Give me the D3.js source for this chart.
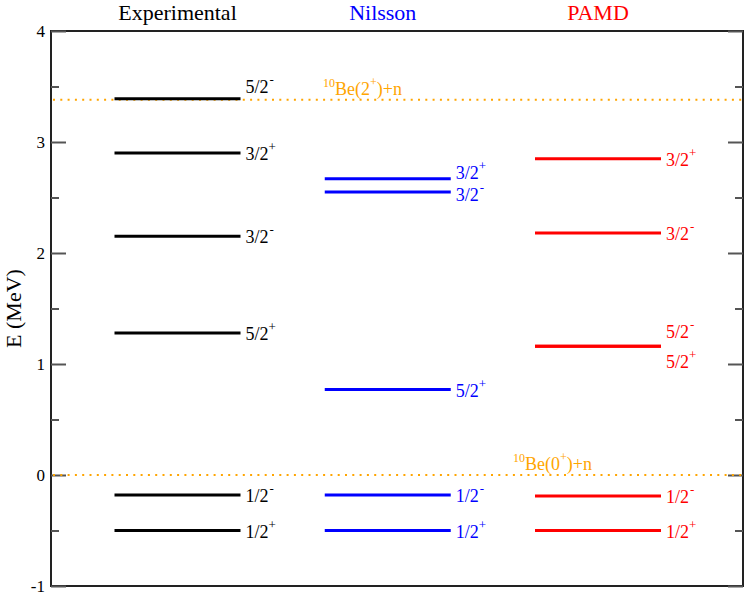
<!DOCTYPE html>
<html>
<head>
<meta charset="utf-8">
<script src="https://cdn.jsdelivr.net/npm/d3@7"></script>
<style>
  html, body { margin: 0; padding: 0; background: #fff; }
  svg { display: block; }
  svg text { font-family: "Liberation Serif", "DejaVu Serif", serif; }
</style>
</head>
<body>
<svg id="chart" width="747" height="595"></svg>
<script>
// ---- data ----
const categories = ["Experimental", "Nilsson", "PAMD"];
const expLevels = [3.39, 2.90, 2.15, 1.28, -0.18, -0.50];
const expLabels = ["5/2-", "3/2+", "3/2-", "5/2+", "1/2-", "1/2+"];
const nilLevels = [2.67, 2.55, 0.77, -0.18, -0.50];
const nilLabels = ["3/2+", "3/2-", "5/2+", "1/2-", "1/2+"];
const pamdLevels = [2.85, 2.18, 1.16, 1.16, -0.19, -0.50];
const pamdLabels = ["3/2+", "3/2-", "5/2-", "5/2+", "1/2-", "1/2+"];
const thresholdValues = [3.38, 0.0];
const thresholdLabels = ["2+", "0+"];
const yTicks = [-1, 0, 1, 2, 3, 4];
const yTickLabels = ["-1", "0", "1", "2", "3", "4"];
const yMinorTicks = [-0.5, 0.5, 1.5, 2.5, 3.5];

// ---- layout / style ----
const FONT = "Liberation Serif, DejaVu Serif, serif";
const colors = ["#000000", "#0000ff", "#ff0000"];
const threshColor = "#ffa500";
const svg = d3.select("#chart").attr("font-family", FONT);
const plot = { left: 51, right: 743, top: 31, bottom: 586 };

const y = d3.scaleLinear().domain([-1, 4]).range([plot.bottom, plot.top]);
const x = d3.scalePoint().domain(categories).range([177.5, 598]);
const halfW = 63;

// label vertical shifts (px) to avoid overlaps, per column / level index
const labelShift = { "0-0": -12, "1-0": -6, "1-1": 3, "2-2": -14, "2-3": 16 };

// frame
svg.append("rect")
  .attr("x", plot.left).attr("y", plot.top)
  .attr("width", plot.right - plot.left).attr("height", plot.bottom - plot.top)
  .attr("fill", "none").attr("stroke", "#222").attr("stroke-width", 2);

// axes
function styleAxis(g) {
  g.attr("font-family", FONT);
  g.select(".domain").remove();
  g.selectAll(".tick line").attr("stroke", "#555").attr("stroke-width", 2);
}
const axL = svg.append("g").attr("transform", `translate(${plot.left},0)`)
  .call(d3.axisLeft(y).tickValues(yTicks).tickSizeInner(-15).tickSizeOuter(0).tickPadding(6)
    .tickFormat((d, i) => yTickLabels[i]));
styleAxis(axL);
axL.selectAll(".tick text").attr("font-size", 17).attr("fill", "#000")
  .attr("font-family", FONT);
const axLm = svg.append("g").attr("transform", `translate(${plot.left},0)`)
  .call(d3.axisLeft(y).tickValues(yMinorTicks).tickSizeInner(-8).tickSizeOuter(0).tickFormat(""));
styleAxis(axLm);
const axR = svg.append("g").attr("transform", `translate(${plot.right},0)`)
  .call(d3.axisRight(y).tickValues(yTicks).tickSizeInner(-15).tickSizeOuter(0).tickFormat(""));
styleAxis(axR);
const axRm = svg.append("g").attr("transform", `translate(${plot.right},0)`)
  .call(d3.axisRight(y).tickValues(yMinorTicks).tickSizeInner(-8).tickSizeOuter(0).tickFormat(""));
styleAxis(axRm);

// y label
svg.append("text")
  .attr("transform", `translate(21,${(plot.top + plot.bottom) / 2}) rotate(-90)`)
  .attr("text-anchor", "middle")
  .attr("font-family", FONT)
  .attr("font-size", 22)
  .text("E (MeV)");

// thresholds
svg.selectAll("line.thresh").data(thresholdValues).enter().append("line")
  .attr("class", "thresh")
  .attr("x1", plot.left + 2).attr("x2", plot.right)
  .attr("y1", d => y(d)).attr("y2", d => y(d))
  .attr("stroke", threshColor).attr("stroke-width", 2)
  .attr("stroke-dasharray", "2,5.3");
const threshX = [323, 513];
thresholdValues.forEach((v, i) => {
  const t = svg.append("text")
    .attr("x", threshX[i]).attr("y", y(v) - 5)
    .attr("fill", threshColor).attr("font-size", 18).attr("font-family", FONT);
  t.append("tspan").attr("font-size", 12).attr("dy", -8).text("10");
  t.append("tspan").attr("dy", 8).text("Be(" + thresholdLabels[i][0]);
  t.append("tspan").attr("font-size", 12).attr("dy", -9).text(thresholdLabels[i][1]);
  t.append("tspan").attr("dy", 9).text(")+n");
});

// titles
svg.selectAll("text.title").data(categories).enter().append("text")
  .attr("class", "title")
  .attr("x", (d, i) => x(d) + (i === 1 ? -5 : 0)).attr("y", 20)
  .attr("text-anchor", "middle")
  .attr("font-family", FONT)
  .attr("font-size", 22)
  .attr("fill", (d, i) => colors[i])
  .text(d => d);

// levels
const columns = [
  { levels: expLevels, labels: expLabels },
  { levels: nilLevels, labels: nilLabels },
  { levels: pamdLevels, labels: pamdLabels }
];
columns.forEach((col, ci) => {
  const cx = x(categories[ci]);
  const g = svg.append("g");
  g.selectAll("line").data(col.levels).enter().append("line")
    .attr("x1", cx - halfW).attr("x2", cx + halfW)
    .attr("y1", d => y(d)).attr("y2", d => y(d))
    .attr("stroke", colors[ci]).attr("stroke-width", 3);
  col.levels.forEach((v, li) => {
    const lab = col.labels[li];
    const shift = labelShift[ci + "-" + li] || 1;
    const t = g.append("text")
      .attr("x", cx + halfW + 5)
      .attr("y", y(v) + shift + 6)
      .attr("fill", colors[ci])
      .attr("font-family", FONT)
      .attr("font-size", 18);
    t.append("tspan").text(lab.slice(0, 3));
    t.append("tspan").attr("font-size", 13).attr("dy", -9)
      .attr("dx", lab[3] === "-" ? 1 : 0)
      .text(lab[3]);
  });
});
</script>
</body>
</html>
